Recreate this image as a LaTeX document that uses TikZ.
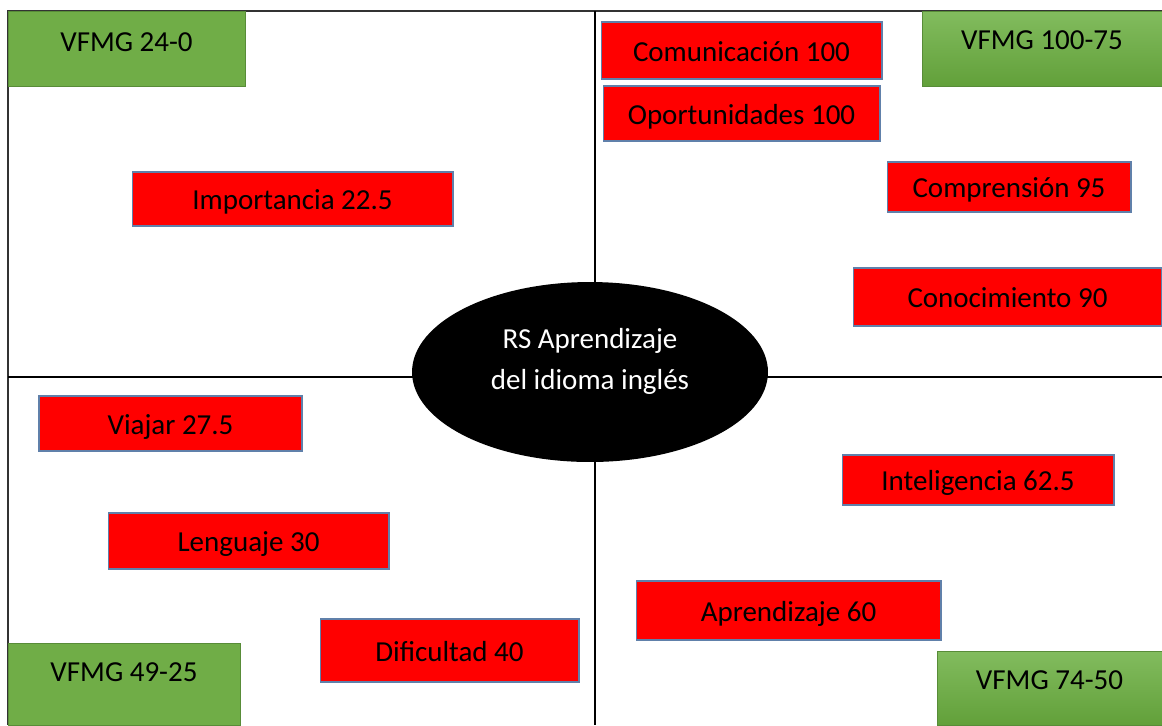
\documentclass[tikz,border=0pt]{standalone}
\usepackage{fontspec}
\setmainfont{Carlito}
\usetikzlibrary{shapes,positioning,backgrounds}

\definecolor{boxred}{RGB}{255,0,0}
\definecolor{boxedge}{RGB}{96,128,170}
\definecolor{vgreen}{RGB}{112,173,71}
\definecolor{vgreenlight}{RGB}{130,188,94}
\definecolor{vgreendark}{RGB}{98,160,58}
\definecolor{vedge}{RGB}{88,140,56}

\begin{document}
\begin{tikzpicture}[x=0.02cm, y=-0.02cm, inner sep=0pt,
  font=\fontsize{16.5}{23}\selectfont,
  rs/.style={rectangle, draw=boxedge, line width=0.6pt, fill=boxred, text height=13pt, text depth=0.5pt},
  vfmg/.style={rectangle, draw=vedge, line width=0.4pt, fill=vgreen},
  vfmgshade/.style={rectangle, draw=vedge, line width=0.4pt, top color=vgreenlight, bottom color=vgreendark}]
  \useasboundingbox (0,0) rectangle (1162,725);

  % frame and quadrants
  \coordinate (tl) at (8,11);
  \coordinate (tr) at (1162,11);
  \coordinate (bl) at (8,725);
  \coordinate (ml) at (8,377);
  \coordinate (mr) at (1162,377);
  \coordinate (mt) at (595,11);
  \coordinate (mb) at (595,725);
  \draw[line width=0.9pt, black!80] (bl)--(tl)--(tr);
  \draw[line width=0.6pt] (ml)--(mr);
  \draw[line width=0.6pt] (mt)--(mb);

  % ranges
  \node[vfmg, minimum width=4.74cm, minimum height=1.50cm, text depth=7.4pt] (g24) at (126.5,48.5) {VFMG 24-0};
  \node[vfmgshade, minimum width=4.80cm, minimum height=1.50cm, text depth=9.7pt] (g100) at (1042,48.5) {VFMG 100-75};
  \node[vfmg, minimum width=4.64cm, minimum height=1.64cm, text depth=13.7pt] (g49) at (124,684) {VFMG 49-25};
  \node[vfmgshade, minimum width=4.50cm, minimum height=1.48cm, text depth=9.1pt] (g74) at (1049.5,688) {VFMG 74-50};

  % terms
  \node[rs, minimum width=5.62cm, minimum height=1.14cm] (comm) at (741.5,50.5) {Comunicación 100};
  \node[rs, minimum width=5.54cm, minimum height=1.10cm] (oport) at (741.5,113.5) {Oportunidades 100};
  \node[rs, minimum width=6.42cm, minimum height=1.08cm] (imp) at (292.5,199) {Importancia 22.5};
  \node[rs, minimum width=4.88cm, minimum height=1.00cm] (compr) at (1009,187) {Comprensión 95};
  \node[rs, minimum width=6.18cm, minimum height=1.16cm] (conoc) at (1007.5,297) {Conocimiento 90};
  \node[rs, minimum width=5.26cm, minimum height=1.10cm] (viajar) at (170.5,423.5) {Viajar 27.5};
  \node[rs, minimum width=5.62cm, minimum height=1.12cm] (leng) at (248.5,541) {Lenguaje 30};
  \node[rs, minimum width=5.18cm, minimum height=1.26cm] (dific) at (449.5,650.5) {Dificultad 40};
  \node[rs, minimum width=5.44cm, minimum height=1.00cm] (intel) at (978,480) {Inteligencia 62.5};
  \node[rs, minimum width=6.10cm, minimum height=1.18cm] (aprend) at (788.5,610.5) {Aprendizaje 60};

  % centre
  \node[ellipse, fill=black, text=white, align=center, text depth=15pt, minimum width=7.12cm, minimum height=3.60cm] (rs) at (590,372) {RS Aprendizaje\\del idioma inglés};
\end{tikzpicture}
\end{document}
